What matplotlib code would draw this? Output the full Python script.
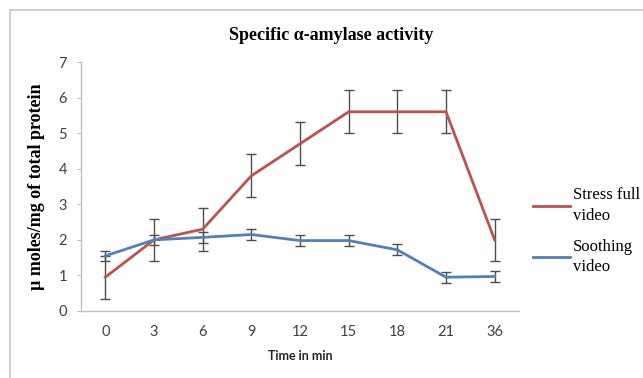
import matplotlib
matplotlib.use("Agg")
import matplotlib.pyplot as plt
from matplotlib.patches import Rectangle
from matplotlib.lines import Line2D

categories = ["0", "3", "6", "9", "12", "15", "18", "21", "36"]
stress = [0.95, 2.0, 2.3, 3.8, 4.7, 5.6, 5.6, 5.6, 2.0]
stress_err = [0.6, 0.6, 0.6, 0.6, 0.6, 0.6, 0.6, 0.6, 0.6]
soothing = [1.55, 2.0, 2.07, 2.15, 1.98, 1.98, 1.72, 0.95, 0.97]
soothing_err = [0.15, 0.15, 0.15, 0.15, 0.15, 0.15, 0.15, 0.15, 0.15]
yticks = [0, 1, 2, 3, 4, 5, 6, 7]

fig = plt.figure(figsize=(6.43, 3.78), dpi=100)
fig.patches.append(Rectangle((10/643, -0.1), 1.1, 1 - 10/378 + 0.1,
                             transform=fig.transFigure, fill=False,
                             edgecolor="#c8c8c8", linewidth=1.2))
ax = fig.add_axes([81/643, (378-311)/378, (519-81)/643, (311-62)/378])

x = list(range(len(categories)))
red = "#C0504D"
blue = "#4F81BD"
ax.errorbar(x, stress, yerr=stress_err, color=red, lw=2.0,
            ecolor="#4d4d4d", elinewidth=1.0, capsize=3.5, capthick=1.0, zorder=3)
ax.errorbar(x, soothing, yerr=soothing_err, color=blue, lw=2.0,
            ecolor="#4d4d4d", elinewidth=1.0, capsize=3.5, capthick=1.0, zorder=3)

ax.set_xlim(-0.5, len(categories) - 0.5)
ax.set_ylim(0, 7)
ax.set_xticks(x)
ax.set_xticklabels(categories)
ax.set_yticks(yticks)
for s in ["top", "right"]:
    ax.spines[s].set_visible(False)
for s in ["left", "bottom"]:
    ax.spines[s].set_color("#bfbfbf")
    ax.spines[s].set_linewidth(1.0)
ax.tick_params(axis="x", length=0, pad=10, labelsize=10.5, labelcolor="#404040")
ax.tick_params(axis="y", length=3, color="#bfbfbf", pad=7, labelsize=10.5, labelcolor="#404040")
for lab in ax.get_xticklabels() + ax.get_yticklabels():
    lab.set_family("Lato")

ax.set_xlabel("Time in min", family="Lato", fontweight="bold", fontsize=9,
              color="#262626", labelpad=8)
ax.set_ylabel("µ moles/mg of total protein", family="Liberation Serif",
              fontweight="bold", fontsize=13, labelpad=10)
fig.text(331/643, 1 - 35/378, "Specific α-amylase activity", family="Liberation Serif",
         fontweight="bold", fontsize=13, ha="center", va="center")

handles = [Line2D([0], [0], color=red, lw=2.0), Line2D([0], [0], color=blue, lw=2.0)]
leg = fig.legend(handles, ["Stress full\nvideo", "Soothing\nvideo"],
                 loc="center left", bbox_to_anchor=(518/643, 1 - 231/378),
                 frameon=False, handlelength=2.2, handletextpad=0.2,
                 labelspacing=0.9, prop={"family": "Liberation Serif", "size": 12})
for t in leg.get_texts():
    t.set_linespacing(1.35)

fig.savefig("out.png", dpi=100)
